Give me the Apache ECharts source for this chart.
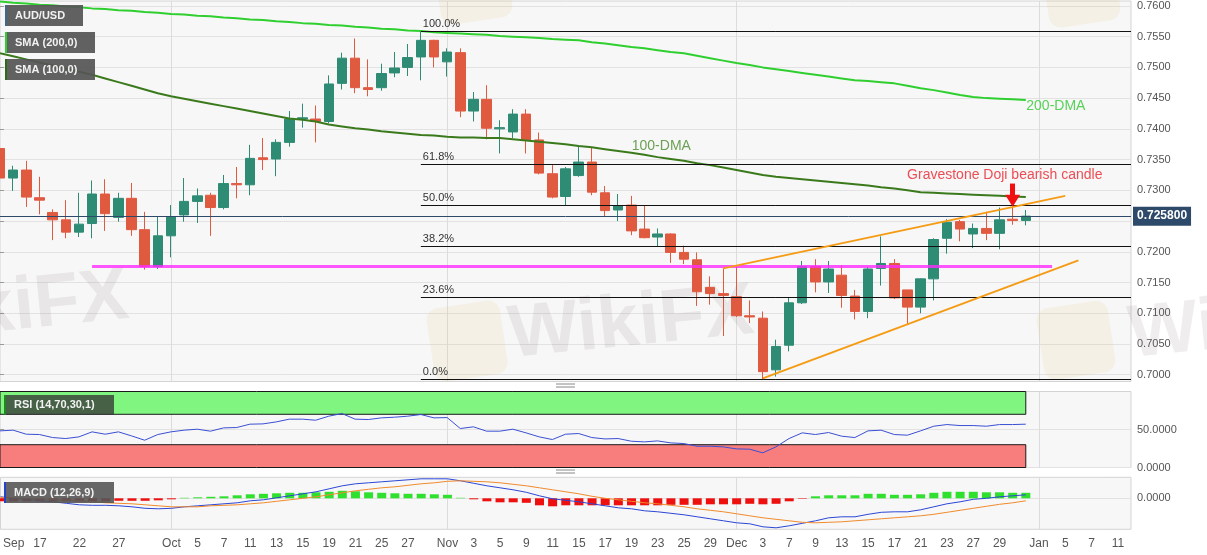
<!DOCTYPE html>
<html><head><meta charset="utf-8">
<script src="https://cdn.jsdelivr.net/npm/echarts@6/dist/echarts.min.js"></script>
<style>html,body{margin:0;padding:0;background:#fff}#c{width:1207px;height:555px}</style>
</head><body><div id="c"></div>
<script>
// ---------- data ----------
const dates = ['2021-09-14','2021-09-15','2021-09-16','2021-09-17','2021-09-20','2021-09-21','2021-09-22','2021-09-23','2021-09-24','2021-09-27','2021-09-28','2021-09-29','2021-09-30',
'2021-10-01','2021-10-04','2021-10-05','2021-10-06','2021-10-07','2021-10-08','2021-10-11','2021-10-12','2021-10-13','2021-10-14','2021-10-15','2021-10-18','2021-10-19','2021-10-20','2021-10-21','2021-10-22','2021-10-25','2021-10-26','2021-10-27','2021-10-28','2021-10-29',
'2021-11-01','2021-11-02','2021-11-03','2021-11-04','2021-11-05','2021-11-08','2021-11-09','2021-11-10','2021-11-11','2021-11-12','2021-11-15','2021-11-16','2021-11-17','2021-11-18','2021-11-19','2021-11-22','2021-11-23','2021-11-24','2021-11-25','2021-11-26','2021-11-29','2021-11-30',
'2021-12-01','2021-12-02','2021-12-03','2021-12-06','2021-12-07','2021-12-08','2021-12-09','2021-12-10','2021-12-13','2021-12-14','2021-12-15','2021-12-16','2021-12-17','2021-12-20','2021-12-21','2021-12-22','2021-12-23','2021-12-24','2021-12-27','2021-12-28','2021-12-29','2021-12-30','2021-12-31'];
const futureDates = ['2022-01-03','2022-01-04','2022-01-05','2022-01-06','2022-01-07','2022-01-10','2022-01-11','2022-01-12'];

const open  = [0.7368,0.7320,0.7333,0.7288,0.7264,0.7252,0.7232,0.7246,0.7294,0.7256,0.7287,0.7236,0.7176,
0.7226,0.7260,0.7282,0.7292,0.7272,0.7311,0.7309,0.7353,0.7351,0.7378,0.7416,0.7416,0.7412,0.7474,0.7515,0.7467,0.7467,0.7491,0.7500,0.7517,0.7544,
0.7509,0.7524,0.7429,0.7448,0.7400,0.7395,0.7424,0.7382,0.7327,0.7290,0.7324,0.7346,0.7296,0.7268,0.7276,0.7237,0.7224,0.7229,0.7199,0.7187,0.7142,0.7132,
0.7127,0.7096,0.7092,0.7008,0.7048,0.7117,0.7176,0.7151,0.7162,0.7128,0.7103,0.7173,0.7181,0.7138,0.7110,0.7156,0.7222,0.7249,0.7229,0.7238,0.7230,0.7253,0.7251];
const high  = [0.7374,0.7340,0.7348,0.7322,0.7269,0.7284,0.7296,0.7316,0.7318,0.7296,0.7312,0.7265,0.7257,
0.7276,0.7320,0.7303,0.7296,0.7325,0.7338,0.7374,0.7385,0.7383,0.7429,0.7441,0.7438,0.7487,0.7524,0.7547,0.7513,0.7506,0.7525,0.7538,0.7558,0.7545,
0.7531,0.7531,0.7460,0.7471,0.7414,0.7432,0.7432,0.7394,0.7341,0.7338,0.7371,0.7370,0.7307,0.7294,0.7291,0.7275,0.7238,0.7230,0.7210,0.7199,0.7160,0.7173,
0.7176,0.7121,0.7103,0.7057,0.7125,0.7185,0.7188,0.7185,0.7178,0.7138,0.7175,0.7225,0.7188,0.7138,0.7157,0.7222,0.7253,0.7252,0.7246,0.7265,0.7272,0.7276,0.7268];
const low   = [0.7314,0.7299,0.7273,0.7261,0.7219,0.7222,0.7224,0.7222,0.7234,0.7249,0.7226,0.7171,0.7172,
0.7191,0.7249,0.7247,0.7226,0.7269,0.7287,0.7292,0.7333,0.7323,0.7371,0.7402,0.7378,0.7409,0.7464,0.7458,0.7453,0.7462,0.7484,0.7486,0.7479,0.7500,
0.7485,0.7419,0.7412,0.7383,0.7360,0.7385,0.7360,0.7326,0.7287,0.7276,0.7322,0.7292,0.7258,0.7250,0.7227,0.7222,0.7208,0.7182,0.7180,0.7112,0.7114,0.7063,
0.7094,0.7084,0.6993,0.6997,0.7038,0.7115,0.7134,0.7133,0.7109,0.7090,0.7092,0.7145,0.7123,0.7083,0.7100,0.7121,0.7197,0.7217,0.7206,0.7219,0.7204,0.7244,0.7243];
const close = [0.7320,0.7333,0.7289,0.7284,0.7252,0.7232,0.7245,0.7294,0.7262,0.7287,0.7236,0.7176,0.7226,
0.7257,0.7282,0.7291,0.7272,0.7311,0.7309,0.7352,0.7350,0.7378,0.7416,0.7418,0.7412,0.7473,0.7515,0.7467,0.7464,0.7490,0.7499,0.7516,0.7544,0.7517,
0.7525,0.7429,0.7448,0.7401,0.7402,0.7424,0.7382,0.7328,0.7289,0.7335,0.7346,0.7297,0.7267,0.7275,0.7234,0.7223,0.7229,0.7199,0.7188,0.7135,0.7132,0.7129,
0.7096,0.7094,0.7005,0.7046,0.7117,0.7176,0.7151,0.7172,0.7129,0.7103,0.7172,0.7181,0.7125,0.7110,0.7156,0.7220,0.7248,0.7237,0.7238,0.7230,0.7252,0.7251,0.7258];

const sma200 = [0.7607,0.7605,0.7604,0.7602,0.7601,0.7599,0.7598,0.7596,0.7595,0.7593,0.7592,0.7590,0.7589,0.7587,0.7586,0.7584,0.7583,0.7581,0.7580,0.7578,0.7577,0.7575,0.7574,0.7572,0.7571,0.7569,0.7568,0.7566,0.7565,0.7563,0.7562,0.7560,0.7559,
0.7557,0.7556,0.7555,0.7554,0.7553,0.7551,0.7550,0.7549,0.7548,0.7546,0.7545,0.7544,0.7541,0.7539,0.7536,0.7533,0.7531,0.7528,0.7525,0.7523,0.7519,0.7515,0.7511,0.7507,
0.7504,0.7500,0.7497,0.7494,0.7491,0.7488,0.7485,0.7482,0.7479,0.7478,0.7476,0.7474,0.7470,0.7466,0.7463,0.7459,0.7455,0.7452,0.7450,0.7449,0.7448,0.7447];
const sma100 = [0.7523,0.7518,0.7513,0.7508,0.7503,0.7498,0.7493,0.7488,0.7482,0.7476,0.7470,0.7464,0.7458,0.7453,0.7449,0.7445,0.7441,0.7437,0.7433,0.7429,0.7425,0.7421,0.7417,0.7415,0.7412,0.7407,0.7404,0.7401,0.7399,0.7396,0.7394,0.7392,0.7390,
0.7389,0.7387,0.7386,0.7386,0.7385,0.7385,0.7383,0.7381,0.7379,0.7377,0.7375,0.7372,0.7370,0.7367,0.7364,0.7361,0.7358,0.7354,0.7351,0.7348,0.7344,0.7341,0.7337,0.7333,
0.7329,0.7325,0.7322,0.7320,0.7318,0.7316,0.7314,0.7312,0.7310,0.7308,0.7305,0.7303,0.7300,0.7297,0.7296,0.7295,0.7294,0.7293,0.7292,0.7291,0.7290,0.7289];

const rsi = [48.2,49.1,43.8,43.4,39.4,38.1,40.3,46.9,43.8,46.9,41.6,35.9,43.4,46.9,49.1,50.4,47.8,52.1,52.6,57.0,57.4,60.0,63.6,63.6,62.2,67.5,71.0,63.6,63.1,65.3,66.2,67.5,69.7,65.3,
65.7,51.3,53.5,47.8,47.8,50.4,45.6,40.3,36.8,43.8,44.7,39.4,37.6,38.1,34.6,33.7,35.0,32.4,31.5,28.0,28.0,27.1,
24.5,24.1,19.3,27.1,38.1,45.6,43.4,46.0,41.2,39.4,48.2,49.1,43.4,42.5,48.2,54.3,56.5,55.2,55.2,54.3,56.5,56.5,57.0];

const macd = [0.0003,0.0000,-0.0002,-0.0005,-0.0007,-0.0010,-0.0013,-0.0014,-0.0014,-0.0015,-0.0017,-0.0020,-0.0021,-0.0020,-0.0017,-0.0015,-0.0013,-0.0011,-0.0009,-0.0005,-0.0003,0.0001,0.0005,0.0009,0.0013,0.0019,0.0025,0.0029,0.0031,0.0033,0.0035,0.0037,0.0039,0.0039,
0.0039,0.0035,0.0030,0.0025,0.0021,0.0017,0.0012,0.0005,-0.0001,-0.0004,-0.0007,-0.0011,-0.0015,-0.0019,-0.0021,-0.0025,-0.0027,-0.0030,-0.0033,-0.0037,-0.0041,-0.0045,
-0.0049,-0.0051,-0.0057,-0.0059,-0.0055,-0.0050,-0.0045,-0.0039,-0.0037,-0.0037,-0.0032,-0.0028,-0.0027,-0.0027,-0.0023,-0.0017,-0.0011,-0.0007,-0.0002,0.0000,0.0003,0.0005,0.0007];
const signal = [0.0002,0.0001,0.0000,-0.0001,-0.0003,-0.0004,-0.0005,-0.0007,-0.0009,-0.0010,-0.0011,-0.0013,-0.0015,-0.0017,-0.0017,-0.0017,-0.0015,-0.0014,-0.0013,-0.0011,-0.0009,-0.0006,-0.0003,0.0000,0.0003,0.0007,0.0011,0.0015,0.0018,0.0021,0.0023,0.0026,0.0029,0.0031,
0.0034,0.0035,0.0034,0.0033,0.0031,0.0028,0.0025,0.0021,0.0017,0.0013,0.0009,0.0004,0.0000,-0.0003,-0.0006,-0.0009,-0.0011,-0.0014,-0.0017,-0.0021,-0.0024,-0.0027,
-0.0031,-0.0035,-0.0039,-0.0042,-0.0045,-0.0048,-0.0049,-0.0048,-0.0047,-0.0045,-0.0043,-0.0041,-0.0039,-0.0037,-0.0035,-0.0032,-0.0028,-0.0024,-0.0020,-0.0016,-0.0012,-0.0009,-0.0005];
const hist = [-0.0006,-0.0006,-0.0006,-0.0006,-0.0006,-0.0006,-0.0006,-0.0006,-0.0006,-0.0005,-0.0005,-0.0005,-0.0004,-0.0002,0.0001,0.0002,0.0003,0.0004,0.0006,0.0008,0.0009,0.0010,0.0011,0.0011,0.0012,0.0013,0.0015,0.0014,0.0012,0.0011,0.0010,0.0009,0.0009,0.0008,
0.0007,0.0001,-0.0002,-0.0006,-0.0008,-0.0008,-0.0009,-0.0014,-0.0016,-0.0014,-0.0014,-0.0014,-0.0014,-0.0014,-0.0014,-0.0014,-0.0014,-0.0013,-0.0013,-0.0013,-0.0012,-0.0012,
-0.0012,-0.0011,-0.0012,-0.0011,-0.0006,-0.0001,0.0004,0.0006,0.0006,0.0006,0.0009,0.0009,0.0007,0.0007,0.0008,0.0011,0.0013,0.0013,0.0013,0.0012,0.0012,0.0011,0.0011];

const priceTicks = [0.7000,0.7050,0.7100,0.7150,0.7200,0.7250,0.7300,0.7350,0.7400,0.7450,0.7500,0.7550,0.7600];
const xTickDates = ['2021-09-15','2021-09-17','2021-09-22','2021-09-27','2021-10-01','2021-10-05','2021-10-07','2021-10-11','2021-10-13','2021-10-15','2021-10-19','2021-10-21','2021-10-25','2021-10-27',
'2021-11-01','2021-11-03','2021-11-05','2021-11-09','2021-11-11','2021-11-15','2021-11-17','2021-11-19','2021-11-23','2021-11-25','2021-11-29',
'2021-12-01','2021-12-03','2021-12-07','2021-12-09','2021-12-13','2021-12-15','2021-12-17','2021-12-21','2021-12-23','2021-12-27','2021-12-29','2022-01-03','2022-01-05','2022-01-07','2022-01-11'];
const xTickText = ['Sep','17','22','27','Oct','5','7','11','13','15','19','21','25','27','Nov','3','5','9','11','15','17','19','23','25','29','Dec','3','7','9','13','15','17','21','23','27','29','Jan','5','7','11'];
const monthStartDates = ['2021-10-01','2021-11-01','2021-12-01','2022-01-03'];

const fibStartDate = '2021-10-28';
const fibLevels = [0.7558,0.7342,0.7276,0.7209,0.7126,0.6993];
const fibText = ['100.0%','61.8%','50.0%','38.2%','23.6%','0.0%'];
const lastPrice = 0.7258;
const supportDates = ['2021-09-23','2022-01-04'];
const supportValues = [0.7176,0.7176];
const upperTrendDates = ['2021-11-30','2022-01-05'];
const upperTrendValues = [0.7173,0.7291];
const lowerTrendDates = ['2021-12-03','2022-01-06'];
const lowerTrendValues = [0.6994,0.7186];
const dojiDate = '2021-12-30';
const arrowValues = [0.7311,0.7283];

// ---------- build ----------
const allDates = dates.concat(futureDates);
const ix = d => allDates.indexOf(d);
const xMax = allDates.length - 1;
const labelIdx = xTickDates.map(ix);
const monthIdx = monthStartDates.map(ix);
const FONT = 'Liberation Sans, Arial, sans-serif';
const UP = '#2e8b74', DOWN = '#e05a40';

const pairs = arr => arr.map((v, i) => [i, v]);
const candleData = dates.map((d, i) => [i, open[i], close[i], low[i], high[i]]);
const fibStart = ix(fibStartDate);

function xa(gi, showLabel) {
  return {
    type: 'value', gridIndex: gi, min: 0, max: xMax,
    axisLine: { show: false },
    axisTick: { show: false, customValues: monthIdx },
    splitLine: { show: true, lineStyle: { color: '#dcdcdc', width: 1 } },
    axisLabel: showLabel ? {
      show: true, customValues: labelIdx,
      formatter: v => { const k = labelIdx.indexOf(Math.round(v)); return k >= 0 ? xTickText[k] : ''; },
      color: '#555', fontSize: 12, margin: 8, fontFamily: FONT
    } : { show: false }
  };
}
function ya(gi, min, max, ticks, digits) {
  return {
    type: 'value', gridIndex: gi, position: 'right', min: min, max: max,
    axisLine: { show: false },
    axisTick: { show: true, length: 4, customValues: ticks, lineStyle: { color: '#9a9a9a' } },
    axisLabel: { customValues: ticks, formatter: v => Number(v).toFixed(digits), color: '#555', fontSize: 11, margin: 6, fontFamily: FONT },
    splitLine: { show: true, lineStyle: { color: '#e2e2e2' } }
  };
}
const gridBase = { left: 0, right: 76, show: true, backgroundColor: '#f7f7f7', borderColor: '#d4d4d4', borderWidth: 1 };

const fibLines = fibLevels.map((v, k) => [
  { coord: [fibStart, v], name: fibText[k],
    label: { show: true, position: 'insideStartTop', formatter: fibText[k], color: '#333', fontSize: 11, distance: 2, fontFamily: FONT },
    lineStyle: { color: '#111', width: 1, type: 'solid' } },
  { coord: [xMax, v] }
]);
const priceLine = [
  { coord: [0, lastPrice],
    label: { show: true, position: 'end', formatter: lastPrice.toFixed(6), color: '#fff', backgroundColor: '#2d4a6b',
      fontWeight: 'bold', fontSize: 12, padding: [4, 4, 3, 4], distance: 2, fontFamily: FONT },
    lineStyle: { color: '#2d4a6b', width: 1, type: 'solid' } },
  { coord: [xMax, lastPrice] }
];

const annot = [
  { value: [dates.length - 1, 0.7437], label: { formatter: '200-DMA', color: '#30c830', position: 'right', fontSize: 14 } },
  { value: [48, 0.7372], label: { formatter: '100-DMA', color: '#4a8a2a', position: 'right', fontSize: 14 } },
  { value: [76.4, 0.7325], label: { formatter: 'Gravestone Doji bearish candle', color: '#e8222a', position: 'inside', fontSize: 14 } }
];

const wm = (x, y, size, rot) => ({ type: 'text', x: x, y: y, rotation: rot, z: 1, silent: true,
  style: { text: 'WikiFX', font: 'bold ' + size + 'px ' + FONT, fill: 'rgba(120,105,105,0.12)' } });
const logo = (x, y, s) => ({ type: 'rect', x: x, y: y, z: 1, silent: true, shape: { width: s, height: s, r: 12 },
  rotation: 0.15, style: { fill: 'rgba(235,195,110,0.13)' } });
const box = (x, y, w, h, txt, edge, fill) => ([
  { type: 'rect', z: 100, shape: { x: x, y: y, width: w, height: h }, style: { fill: fill } },
  { type: 'rect', z: 101, shape: { x: x, y: y, width: 2, height: h }, style: { fill: edge } },
  { type: 'text', z: 102, x: x + 10, y: y + h / 2, style: { text: txt, fill: '#f2f2f2', font: 'bold 11px ' + FONT, verticalAlign: 'middle' } }
]);
const sep = (y) => ([
  { type: 'line', z: 50, shape: { x1: 556, y1: y, x2: 575, y2: y }, style: { stroke: '#888', lineWidth: 1 } },
  { type: 'line', z: 50, shape: { x1: 556, y1: y + 3, x2: 575, y2: y + 3 }, style: { stroke: '#888', lineWidth: 1 } }
]);

const option = {
  animation: false,
  backgroundColor: '#ffffff',
  textStyle: { fontFamily: FONT },
  grid: [
    Object.assign({}, gridBase, { top: 1, height: 380.5 }),
    Object.assign({}, gridBase, { top: 391.5, height: 76 }),
    Object.assign({}, gridBase, { top: 477.3, height: 52 })
  ],
  xAxis: [xa(0, false), xa(1, false), xa(2, true)],
  yAxis: [
    ya(0, 0.6989, 0.7608, priceTicks, 4),
    ya(1, 0, 100, [0, 50], 4),
    ya(2, -0.0062, 0.0042, [0], 4)
  ],
  graphic: [
    wm(505, 300, 74, 0.1), wm(-120, 285, 74, 0.1), wm(1125, 300, 74, 0.1),
    logo(425, 310, 74), logo(1035, 310, 72), logo(432, -45, 72), logo(1040, -42, 72),
    ...box(5, 5, 78, 21, 'AUD/USD', '#3c6a8a', 'rgba(85,85,85,0.93)'),
    ...box(5, 32, 90, 21, 'SMA (200,0)', '#2fcf2f', 'rgba(85,85,85,0.93)'),
    ...box(5, 59, 90, 21, 'SMA (100,0)', '#2d6a17', 'rgba(85,85,85,0.93)'),
    ...box(4, 395, 110, 20, 'RSI (14,70,30,1)', '#1d8a1d', 'rgba(55,55,55,0.78)'),
    ...box(4, 482, 110, 21, 'MACD (12,26,9)', '#2244cc', 'rgba(85,85,85,0.9)'),
    ...sep(384), ...sep(470)
  ],
  series: [
    { name: 'AUD/USD', type: 'candlestick', xAxisIndex: 0, yAxisIndex: 0, data: candleData, barWidth: 10, z: 3,
      itemStyle: { color: UP, color0: DOWN, borderColor: UP, borderColor0: DOWN, borderWidth: 1 },
      markLine: { silent: true, symbol: 'none', animation: false, data: fibLines.concat([priceLine]) } },
    { name: 'SMA200', type: 'line', xAxisIndex: 0, yAxisIndex: 0, data: pairs(sma200), showSymbol: false, z: 4,
      lineStyle: { color: '#2fcf2f', width: 2 }, itemStyle: { color: '#2fcf2f' } },
    { name: 'SMA100', type: 'line', xAxisIndex: 0, yAxisIndex: 0, data: pairs(sma100), showSymbol: false, z: 4,
      lineStyle: { color: '#3b7a1c', width: 2 }, itemStyle: { color: '#3b7a1c' } },
    { name: 'support', type: 'line', xAxisIndex: 0, yAxisIndex: 0, showSymbol: false, z: 5,
      data: supportDates.map((d, k) => [ix(d), supportValues[k]]),
      lineStyle: { color: '#ff2bff', width: 3, opacity: 0.8 },
      markLine: { silent: true, symbol: ['none', 'triangle'], symbolSize: [15, 12], animation: false,
        lineStyle: { color: '#f01010', width: 5, type: 'solid' }, label: { show: false },
        data: [[{ coord: [ix(dojiDate), arrowValues[0]] }, { coord: [ix(dojiDate), arrowValues[1]] }]] } },
    { name: 'upper', type: 'line', xAxisIndex: 0, yAxisIndex: 0, showSymbol: false, z: 5,
      data: upperTrendDates.map((d, k) => [ix(d), upperTrendValues[k]]), lineStyle: { color: '#f59b14', width: 2 } },
    { name: 'lower', type: 'line', xAxisIndex: 0, yAxisIndex: 0, showSymbol: false, z: 5,
      data: lowerTrendDates.map((d, k) => [ix(d), lowerTrendValues[k]]), lineStyle: { color: '#f59b14', width: 2 } },
    { name: 'notes', type: 'scatter', xAxisIndex: 0, yAxisIndex: 0, symbolSize: 1, z: 6, silent: true,
      itemStyle: { color: 'rgba(0,0,0,0)' },
      label: { show: true, distance: 0, fontFamily: FONT }, data: annot },
    { name: 'RSI', type: 'line', xAxisIndex: 1, yAxisIndex: 1, data: pairs(rsi), showSymbol: false, z: 4,
      lineStyle: { color: '#3a4fd4', width: 1 },
      markArea: { silent: true, data: [
        [{ xAxis: 0, yAxis: 70, itemStyle: { color: '#80f580', borderColor: '#1a1a1a', borderWidth: 1 } }, { xAxis: dates.length - 1, yAxis: 100 }],
        [{ xAxis: 0, yAxis: 0, itemStyle: { color: '#f87e7e', borderColor: '#1a1a1a', borderWidth: 1 } }, { xAxis: dates.length - 1, yAxis: 30 }]
      ] } },
    { name: 'Hist', type: 'bar', xAxisIndex: 2, yAxisIndex: 2, data: pairs(hist), barWidth: 9, z: 3,
      itemStyle: { color: p => (p.value[1] >= 0 ? '#2fe02f' : '#ee0f0f') } },
    { name: 'MACD', type: 'line', xAxisIndex: 2, yAxisIndex: 2, data: pairs(macd), showSymbol: false, z: 4,
      lineStyle: { color: '#2c46d6', width: 1 } },
    { name: 'Signal', type: 'line', xAxisIndex: 2, yAxisIndex: 2, data: pairs(signal), showSymbol: false, z: 4,
      lineStyle: { color: '#f08a2c', width: 1 } }
  ]
};
const chart = echarts.init(document.getElementById('c'), null, { renderer: 'canvas' });
chart.setOption(option);
</script></body></html>
